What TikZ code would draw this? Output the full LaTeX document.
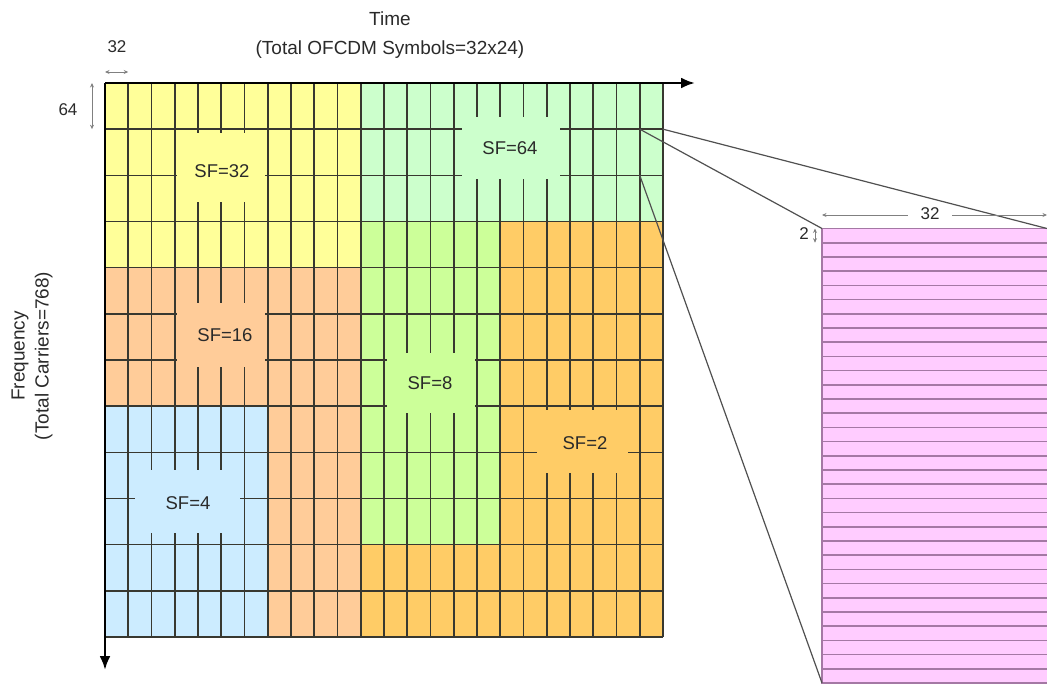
\documentclass[tikz,border=0pt]{standalone}
\usepackage{fontspec}
\setmainfont{Liberation Sans}
\usetikzlibrary{arrows.meta}

\definecolor{yellowc}{HTML}{FFFF99}
\definecolor{mintc}{HTML}{CCFFCC}
\definecolor{salmonc}{HTML}{FFCC99}
\definecolor{bluec}{HTML}{CCECFF}
\definecolor{limec}{HTML}{CCFF99}
\definecolor{amberc}{HTML}{FFCC66}
\definecolor{pinkc}{HTML}{FFCCFF}
\definecolor{pinkl}{HTML}{A478A4}
\definecolor{gridc}{HTML}{383830}
\definecolor{txtc}{HTML}{2A2A2A}
\definecolor{dimc}{HTML}{808080}
\definecolor{zoomc}{HTML}{505050}

\begin{document}
\begin{tikzpicture}[x=1pt,y=-1pt,
  gridline/.style={draw=gridc, line width=1.6pt},
  axisline/.style={draw=black, line width=2.6pt, -{Latex[length=14pt,width=11pt]}},
  gapbox/.style={draw=none, inner sep=0pt},
  sflabel/.style={font=\fontsize{18.5}{22}\selectfont, text=txtc, inner sep=0pt},
  axislabel/.style={font=\fontsize{19}{24}\selectfont, text=txtc, inner sep=0pt},
  dimlabel/.style={font=\fontsize{17}{20}\selectfont, text=txtc, inner sep=0pt},
  dimarrow/.style={draw=dimc, line width=1pt, {Stealth[length=4.5pt,width=4pt]}-{Stealth[length=4.5pt,width=4pt]}},
  zoomline/.style={draw=zoomc, line width=1.2pt},
  pinkline/.style={draw=pinkl, line width=1.6pt}]
\useasboundingbox (0,0) rectangle (1047,683);

% spreading-factor regions on the 24 x 12 time/frequency grid
\fill[yellowc] (105,83) rectangle (360.75,267.67);
\fill[mintc]   (360.75,83) rectangle (663,221.5);
\fill[salmonc] (105,267.67) -- (360.75,267.67) -- (360.75,637) -- (267.75,637)
               -- (267.75,406.17) -- (105,406.17) -- cycle;
\fill[bluec]   (105,406.17) rectangle (267.75,637);
\fill[limec]   (360.75,221.5) rectangle (500.25,544.67);
\fill[amberc]  (500.25,221.5) -- (663,221.5) -- (663,637) -- (360.75,637)
               -- (360.75,544.67) -- (500.25,544.67) -- cycle;

% grid lines
\foreach \i in {1,...,24}
  \draw[gridline] ({105+23.25*\i},83) -- ({105+23.25*\i},637);
\foreach \j in {1,...,12}
  \draw[gridline] (105,{83+46.1667*\j}) -- (663,{83+46.1667*\j});

% label boxes that interrupt the grid lines
\node[gapbox, fill=yellowc, minimum width=88pt, minimum height=69pt] (gap32) at (221,167.5) {};
\node[sflabel] (sf32) at (222,171) {SF=32};
\node[gapbox, fill=mintc, minimum width=98pt, minimum height=62pt] (gap64) at (511,148) {};
\node[sflabel] (sf64) at (510,148) {SF=64};
\node[gapbox, fill=salmonc, minimum width=88pt, minimum height=64pt] (gap16) at (221,335) {};
\node[sflabel] (sf16) at (225,335) {SF=16};
\node[gapbox, fill=bluec, minimum width=105pt, minimum height=63pt] (gap4) at (187.5,501.5) {};
\node[sflabel] (sf4) at (188,503) {SF=4};
\node[gapbox, fill=limec, minimum width=88pt, minimum height=60pt] (gap8) at (430.5,383) {};
\node[sflabel] (sf8) at (430,383) {SF=8};
\node[gapbox, fill=amberc, minimum width=91pt, minimum height=63pt] (gap2) at (582.5,441.5) {};
\node[sflabel] (sf2) at (585,443) {SF=2};

% axes
\coordinate (O) at (105,83);
\coordinate (tEnd) at (695,83);
\coordinate (fEnd) at (105,670);
\draw[axisline] (O) -- (tEnd);
\draw[axisline] (O) -- (fEnd);

\node[axislabel, anchor=base] (timeA) at (390,25) {Time};
\node[axislabel, anchor=base] (timeB) at (390,54) {(Total OFCDM Symbols=32x24)};
\node[axislabel, rotate=90, align=center] (freq) at (32,356) {Frequency\\(Total Carriers=768)};

% unit cell dimensions
\node[dimlabel] (d32) at (117,47) {32};
\coordinate (d32a) at (105,72);
\coordinate (d32b) at (128.25,72);
\draw[dimarrow] (d32a) -- (d32b);
\node[dimlabel] (d64) at (68,110) {64};
\coordinate (d64a) at (92,83);
\coordinate (d64b) at (92,129.17);
\draw[dimarrow] (d64a) -- (d64b);

% magnified cell
\fill[pinkc] (822,228.5) rectangle (1052,690);
\foreach \k in {0,...,32}
  \draw[pinkline] (822,{228.5+14.203*\k}) -- (1052,{228.5+14.203*\k});
\draw[pinkline] (822,228.5) -- (822,690);

\coordinate (cTL) at (639.75,129.17);
\coordinate (cTR) at (663,129.17);
\coordinate (cBL) at (639.75,175.33);
\coordinate (pTL) at (822,228.5);
\coordinate (pTR) at (1047,228.5);
\coordinate (pBL) at (822,683);
\draw[zoomline] (cTL) -- (pTL);
\draw[zoomline] (cTR) -- (pTR);
\draw[zoomline] (cBL) -- (pBL);

\coordinate (w32a) at (822,215);
\coordinate (w32b) at (1047,215);
\draw[dimarrow] (w32a) -- (w32b);
\node[dimlabel, fill=white, minimum width=44pt, minimum height=14pt] (w32) at (930,214) {32};
\node[dimlabel] (h2) at (804,234) {2};
\coordinate (h2a) at (815,228.5);
\coordinate (h2b) at (815,242.7);
\draw[dimarrow] (h2a) -- (h2b);
\end{tikzpicture}
\end{document}
